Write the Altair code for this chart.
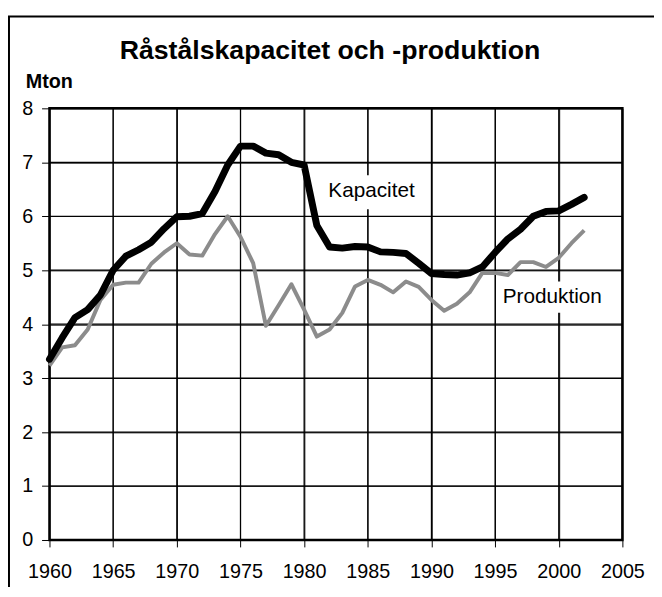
import altair as alt
import pandas as pd

years = list(range(1960, 2003))
kapacitet = [3.35, 3.75, 4.12, 4.27, 4.54, 5.00, 5.26, 5.38, 5.52, 5.77,
             5.99, 6.00, 6.05, 6.46, 6.95, 7.30, 7.30, 7.17, 7.14, 7.00,
             6.95, 5.83, 5.43, 5.41, 5.44, 5.43, 5.34, 5.33, 5.31, 5.13,
             4.94, 4.92, 4.91, 4.95, 5.06, 5.33, 5.58, 5.76, 6.00, 6.09,
             6.10, 6.22, 6.35]
produktion = [3.23, 3.57, 3.61, 3.90, 4.45, 4.73, 4.77, 4.77, 5.12, 5.33,
              5.50, 5.29, 5.27, 5.67, 6.00, 5.62, 5.13, 3.97, 4.35, 4.74,
              4.27, 3.77, 3.90, 4.21, 4.70, 4.82, 4.73, 4.59, 4.79, 4.69,
              4.45, 4.25, 4.38, 4.59, 4.95, 4.95, 4.91, 5.15, 5.15, 5.06,
              5.23, 5.50, 5.74]
x_ticks = list(range(1960, 2006, 5))
y_ticks = list(range(0, 9))
title_text = "Råstålskapacitet och -produktion"
unit_text = "Mton"
label_names = ["Kapacitet", "Produktion"]
label_x = [1981.9, 1995.6]
label_y = [6.46, 4.50]
box_x1 = [1981.6, 1995.3]
box_x2 = [1989.2, 2003.8]
box_y1 = [6.13, 4.21]
box_y2 = [6.76, 4.79]

FONT = "Liberation Sans"

df = pd.DataFrame({"year": years, "Kapacitet": kapacitet, "Produktion": produktion})
labels = pd.DataFrame({"name": label_names, "x": label_x, "y": label_y,
                       "bx1": box_x1, "bx2": box_x2, "by1": box_y1, "by2": box_y2})
xgrid = pd.DataFrame({"xv": x_ticks})
ygrid = pd.DataFrame({"yv": y_ticks})

xscale = alt.Scale(domain=[1960, 2005], nice=False, zero=False)
yscale = alt.Scale(domain=[0, 8], nice=False)

xaxis = alt.Axis(values=x_ticks, format="d", grid=True, gridColor="#000000", gridWidth=1,
                 gridOpacity=1, domain=False, ticks=True,
                 tickColor="black", tickSize=7, tickWidth=1, labelFont=FONT,
                 labelFontSize=20, labelColor="black", labelPadding=15,
                 labelFlush=False, labelOverlap=False, title=None)
yaxis = alt.Axis(values=y_ticks, format="d", grid=True, gridColor="#000000", gridWidth=1,
                 gridOpacity=1, domain=False, ticks=True,
                 tickColor="black", tickSize=8, tickWidth=1, labelFont=FONT,
                 labelFontSize=20, labelColor="black", labelPadding=9, title=None)

vrules = alt.Chart(xgrid).mark_rule(color="#000000", strokeWidth=1.2, opacity=1).encode(
    x=alt.X("xv:Q", scale=xscale, axis=xaxis)
)
hrules = alt.Chart(ygrid).mark_rule(color="#000000", strokeWidth=1.2, opacity=1).encode(
    y=alt.Y("yv:Q", scale=yscale, axis=yaxis)
)

base = alt.Chart(df)
prod = base.mark_line(color="#8c8c8c", strokeWidth=4, strokeJoin="round").encode(
    x=alt.X("year:Q", scale=xscale, axis=xaxis),
    y=alt.Y("Produktion:Q", scale=yscale, axis=yaxis),
)
kap = base.mark_line(color="black", strokeWidth=7, strokeJoin="round", strokeCap="round").encode(
    x=alt.X("year:Q", scale=xscale, axis=xaxis),
    y=alt.Y("Kapacitet:Q", scale=yscale, axis=yaxis),
)

boxes = alt.Chart(labels).mark_rect(color="white").encode(
    x=alt.X("bx1:Q", scale=xscale, axis=xaxis), x2="bx2:Q",
    y=alt.Y("by1:Q", scale=yscale, axis=yaxis), y2="by2:Q",
)
texts = alt.Chart(labels).mark_text(font=FONT, fontSize=21, align="left",
                                    baseline="middle", color="black").encode(
    x=alt.X("x:Q", scale=xscale, axis=xaxis), y=alt.Y("y:Q", scale=yscale, axis=yaxis),
    text="name:N"
)

head = pd.DataFrame({"t": [title_text], "u": [unit_text]})
title = alt.Chart(head).mark_text(font=FONT, fontSize=27, fontWeight="bold",
                                  align="center", baseline="alphabetic", color="black").encode(
    x=alt.value(284), y=alt.value(-50), text="t:N"
)
unit = alt.Chart(head).mark_text(font=FONT, fontSize=20, fontWeight="bold",
                                 align="left", baseline="middle", color="black").encode(
    x=alt.value(-24), y=alt.value(-27), text="u:N"
)
frame = alt.Chart(head).mark_rect(fillOpacity=0, fill="white", stroke="black", strokeWidth=2).encode(
    x=alt.value(-41), x2=alt.value(640), y=alt.value(-93), y2=alt.value(700)
)

chart = alt.layer(vrules, hrules, prod, kap, boxes, texts, title, unit, frame).properties(
    width=580, height=437,
    background="white",
    autosize=alt.AutoSizeParams(type="none"),
    padding={"left": 42, "top": 98, "right": 32, "bottom": 44},
).configure_view(stroke="black", strokeWidth=2.5)

chart.save("out.html", embed_options={"renderer": "svg", "actions": False})
